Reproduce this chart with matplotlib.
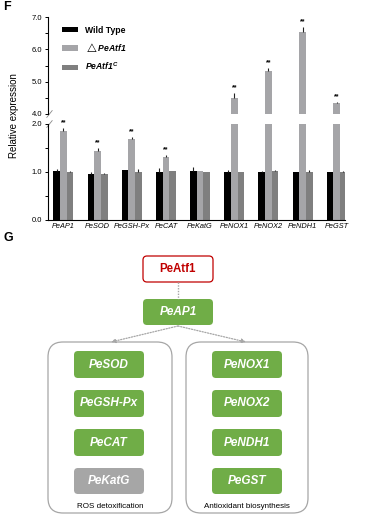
import numpy as np
import matplotlib
matplotlib.use("Agg")
import matplotlib.pyplot as plt
from matplotlib.patches import FancyBboxPatch

plt.rcParams['font.family'] = ['Liberation Sans', 'DejaVu Sans']
plt.rcParams['mathtext.fontset'] = 'custom'
plt.rcParams['mathtext.it'] = 'Liberation Sans:italic:bold'
plt.rcParams['mathtext.rm'] = 'Liberation Sans:italic:bold'
plt.rcParams['mathtext.fallback'] = 'stixsans'

# ---- panel F data ----
genes = ["PeAP1", "PeSOD", "PeGSH-Px", "PeCAT", "PeKatG",
         "PeNOX1", "PeNOX2", "PeNDH1", "PeGST"]
wild_type = [1.02, 0.95, 1.05, 1.01, 1.03, 1.00, 1.01, 1.00, 1.01]
wild_type_err = [0.05, 0.04, 0.00, 0.07, 0.07, 0.04, 0.02, 0.00, 0.00]
delta = [1.85, 1.44, 1.69, 1.31, 1.03, 4.48, 5.33, 6.55, 4.34]
delta_err = [0.06, 0.05, 0.03, 0.04, 0.00, 0.17, 0.08, 0.13, 0.04]
complement = [1.00, 0.95, 0.99, 1.03, 0.99, 0.99, 1.03, 0.99, 0.99]
complement_err = [0.03, 0.02, 0.08, 0.00, 0.02, 0.02, 0.02, 0.05, 0.04]
signif = ["**", "**", "**", "**", "", "**", "**", "**", "**"]

series_labels = ["Wild Type", "$\\triangle\\it{PeAtf1}$", "$\\it{PeAtf1}^{C}$"]
series_colors = ["#000000", "#a5a5a8", "#7f7f7f"]

# ---- panel G data ----
root_gene = "PeAtf1"
hub_gene = "PeAP1"
ros_genes = ["PeSOD", "PeGSH-Px", "PeCAT", "PeKatG"]
anti_genes = ["PeNOX1", "PeNOX2", "PeNDH1", "PeGST"]
ros_active = [True, True, True, False]
anti_active = [True, True, True, True]
group_names = ["ROS detoxification", "Antioxidant biosynthesis"]

W, H = 365, 520
fig = plt.figure(figsize=(W / 100, H / 100), dpi=100)

# diagram / annotation layer in pixel coordinates
lay = fig.add_axes([0, 0, 1, 1])
lay.set_xlim(0, W)
lay.set_ylim(H, 0)
lay.axis("off")


def fpos(x0, y0, x1, y1):
    return [x0 / W, 1 - y1 / H, (x1 - x0) / W, (y1 - y0) / H]


ax_top = fig.add_axes(fpos(48, 17, 345, 114))
ax_bot = fig.add_axes(fpos(48, 124, 345, 220))

x = np.arange(len(genes))
bw = 0.195
data = [(wild_type, wild_type_err), (delta, delta_err), (complement, complement_err)]
for ax in (ax_top, ax_bot):
    for i, (vals, errs) in enumerate(data):
        xs = x + (i - 1) * bw
        ax.bar(xs, vals, bw, color=series_colors[i], label=series_labels[i], zorder=2)
        ax.errorbar(xs, vals, yerr=[np.zeros(len(errs)), errs], fmt="none",
                    ecolor="#222222", elinewidth=0.8, capsize=0, zorder=3)
    ax.set_xlim(-0.45, 8.24)
    for s in ("top", "right"):
        ax.spines[s].set_visible(False)
    ax.spines["left"].set_linewidth(0.8)
    ax.tick_params(axis="y", labelsize=5.5, length=2.5, width=0.7, pad=1.5)
    ax.tick_params(axis="y", which="minor", length=2.5, width=0.7)

ax_top.set_ylim(4, 7)
ax_top.set_yticks([4, 5, 6, 7])
ax_top.set_yticks([4.5, 5.5, 6.5], minor=True)
ax_top.set_yticklabels(["4.0", "5.0", "6.0", "7.0"])
ax_top.spines["bottom"].set_visible(False)
ax_top.set_xticks([])

ax_bot.set_ylim(0, 2)
ax_bot.set_yticks([0, 1, 2])
ax_bot.set_yticks([0.5, 1.5], minor=True)
ax_bot.set_yticklabels(["0.0", "1.0", "2.0"])
ax_bot.spines["bottom"].set_linewidth(0.8)
ax_bot.set_xticks(x)
ax_bot.set_xticklabels(genes, fontsize=5.3, style="italic")
ax_bot.tick_params(axis="x", length=0, pad=2.5)

# significance marks
for i, s in enumerate(signif):
    if not s:
        continue
    top = delta[i] + delta_err[i]
    ax = ax_top if delta[i] > 4 else ax_bot
    ax.text(x[i], top + (0.04 if ax is ax_bot else 0.06), s, ha="center",
            va="bottom", fontsize=5, fontweight="bold", clip_on=False)

# break marks on the y axis
for ax, yy in ((ax_top, 0.0), (ax_bot, 1.0)):
    ax.plot([-0.004, 0.014], [yy - 0.035, yy + 0.035], transform=ax.transAxes,
            color="#888888", lw=0.6, clip_on=False)

leg = ax_top.legend(loc="upper left", bbox_to_anchor=(0.02, 0.99), frameon=False,
                    handlelength=1.9, handleheight=0.6, handletextpad=0.8,
                    labelspacing=0.75, prop={"size": 6.2, "weight": "bold"})

lay.text(14, 116, "Relative expression", rotation=90, ha="center", va="center",
         fontsize=7)
lay.text(3, 7, "F", fontsize=9, fontweight="bold", va="center")
lay.text(3, 238, "G", fontsize=9, fontweight="bold", va="center")

# ---- panel G diagram ----
green = "#70ad47"
grey = "#a6a6a6"
red = "#c00000"


def box(x0, y0, x1, y1, fc, ec, r, lw=0.0):
    p = FancyBboxPatch((x0, y0), x1 - x0, y1 - y0,
                       boxstyle=f"round,pad=0,rounding_size={r}",
                       fc=fc, ec=ec, lw=lw)
    lay.add_patch(p)


box(143, 256, 213, 282, "white", red, 4, lw=0.9)
lay.text(178, 269, root_gene, ha="center", va="center", color=red,
         fontsize=8.3, fontweight="bold")
box(143, 299, 213, 325, green, green, 4)
lay.text(178, 312, hub_gene, ha="center", va="center", color="white",
         fontsize=8.5, fontweight="bold", style="italic")

lay.plot([178, 178], [282, 299], color=grey, lw=1, ls=(0, (1, 1)))
for xe in (111, 246):
    lay.annotate("", xy=(xe, 342), xytext=(178, 326),
                 arrowprops=dict(arrowstyle="-|>,head_length=0.25,head_width=0.12",
                                 color=grey, lw=0.9, ls=(0, (1, 1.2)),
                                 shrinkA=0, shrinkB=0))

containers = [(48, 172), (186, 308)]
inner = [(74, 144), (212, 282)]
rows = [(351, 378), (390, 417), (429, 456), (468, 494)]
for k, (names, active) in enumerate(((ros_genes, ros_active), (anti_genes, anti_active))):
    cx0, cx1 = containers[k]
    box(cx0, 342, cx1, 513, "none", grey, 15, lw=0.9)
    lay.text((cx0 + cx1) / 2, 507, group_names[k], ha="center", va="center",
             fontsize=5.8)
    bx0, bx1 = inner[k]
    for (y0, y1), name, on in zip(rows, names, active):
        box(bx0, y0, bx1, y1, green if on else grey, "none", 4)
        lay.text((bx0 + bx1) / 2, (y0 + y1) / 2, name, ha="center", va="center",
                 color="white", fontsize=8.5, fontweight="bold", style="italic")

fig.savefig("out.png", dpi=100)
